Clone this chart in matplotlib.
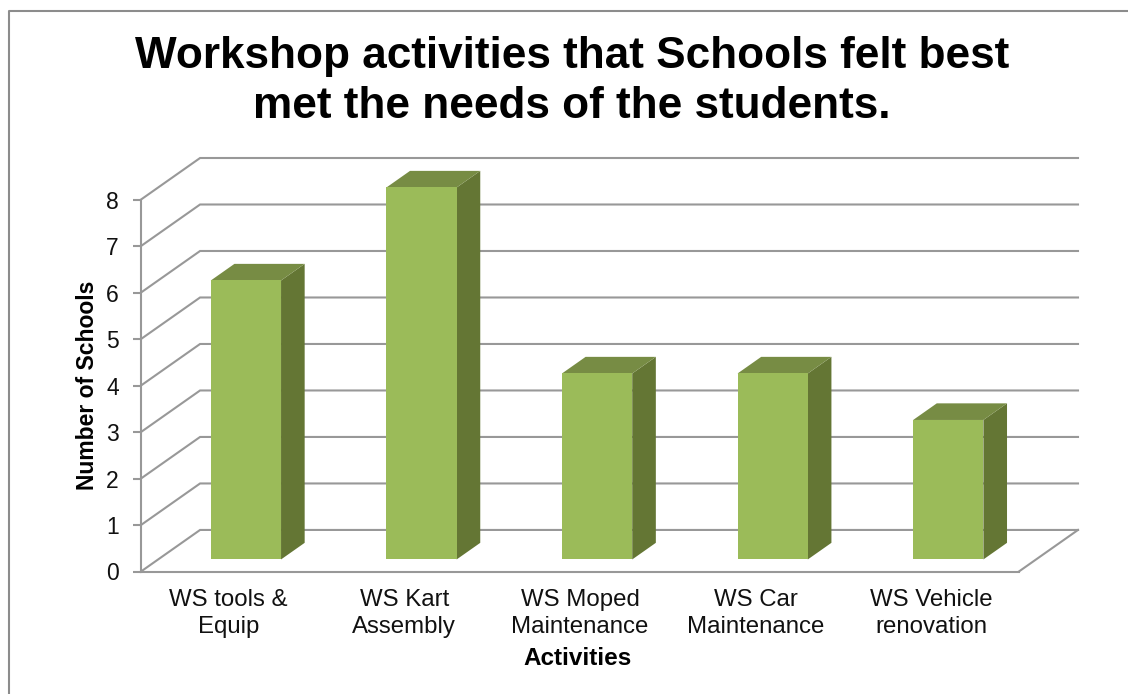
import matplotlib
matplotlib.use('Agg')
import matplotlib.pyplot as plt
from matplotlib.lines import Line2D

plt.rcParams['font.family'] = ['Liberation Sans', 'DejaVu Sans']

categories = ['WS tools &\nEquip', 'WS Kart\nAssembly', 'WS Moped\nMaintenance', 'WS Car\nMaintenance', 'WS Vehicle\nrenovation']
schools = [6, 8, 4, 4, 3]
y_ticks = [0, 1, 2, 3, 4, 5, 6, 7, 8]

# depth of the fake 3d box, in data units
DX = 59 / 175.4
DY = 41.5 / 46.44
GREY = '#989898'


def proj(x, y, d):
    return x + d * DX, y + d * DY


W, H = 1128, 694
fig = plt.figure(figsize=(W / 100, H / 100), dpi=100, facecolor='white')
ax = fig.add_axes([141 / W, (H - 571.5) / H, 937 / W, 413.5 / H])
ax.set_xlim(0, 5 + DX)
ax.set_ylim(0, 8 + DY)
ax.patch.set_visible(False)

# walls and floor
for v in y_ticks:
    x0, y0 = proj(0, v, 0)
    x1, y1 = proj(0, v, 1)
    x2, y2 = proj(5, v, 1)
    ax.plot([x0, x1, x2], [y0, y1, y2], color=GREY, lw=1.5, zorder=1, solid_joinstyle='miter', clip_on=False)
x0, y0 = proj(5, 0, 0)
x1, y1 = proj(5, 0, 1)
ax.plot([x0, x1], [y0, y1], color=GREY, lw=1.5, zorder=1, clip_on=False)

# bars
bar_w = 0.40
d0, d1 = 0.29, 0.69
for i, val in enumerate(schools):
    l = i + 0.5 - bar_w / 2
    r = i + 0.5 + bar_w / 2
    front = [proj(l, 0, d0), proj(r, 0, d0), proj(r, val, d0), proj(l, val, d0)]
    side = [proj(r, 0, d0), proj(r, 0, d1), proj(r, val, d1), proj(r, val, d0)]
    top = [proj(l, val, d0), proj(r, val, d0), proj(r, val, d1), proj(l, val, d1)]
    ax.fill(*zip(*side), color='#647634', lw=0, zorder=3)
    ax.fill(*zip(*top), color='#778C44', lw=0, zorder=3)
    ax.fill(*zip(*front), color='#9BBB59', lw=0, zorder=4)

for s in ['top', 'right']:
    ax.spines[s].set_visible(False)
ax.spines['left'].set_bounds(0, 8)
ax.spines['bottom'].set_bounds(0, 5)
ax.spines['left'].set_color(GREY)
ax.spines['bottom'].set_color(GREY)
ax.spines['left'].set_linewidth(1.5)
ax.spines['bottom'].set_linewidth(1.5)

ax.set_yticks(y_ticks)
ax.set_xticks([i + 0.5 for i in range(5)])
ax.set_xticklabels(categories, fontsize=17.3, color='#111111', linespacing=1.28)
ax.tick_params(axis='x', length=0, pad=12.5)
ax.tick_params(axis='y', length=5.5, width=1.5, color=GREY, labelsize=16.5, labelcolor='#111111', pad=10.5)

ax.set_xlabel('Activities', fontsize=17.5, fontweight='bold', x=0.466, labelpad=7)
ax.set_ylabel('Number of Schools', fontsize=16.5, fontweight='bold')
ax.yaxis.set_label_coords((99 - 141) / 937, (571.5 - 385) / 413.5)

fig.text(572 / W, 1 - 81.5 / H, 'Workshop activities that Schools felt best\nmet the needs of the students.',
         ha='center', va='center', fontsize=31.8, fontweight='bold', color='black', linespacing=1.27)

# outer chart border, only left and top show
fig.add_artist(Line2D([8.5 / W, 8.5 / W, 1], [0, 1 - 11 / H, 1 - 11 / H], color='#8c8c8c', lw=1.5))

fig.savefig('out.png', dpi=100)
